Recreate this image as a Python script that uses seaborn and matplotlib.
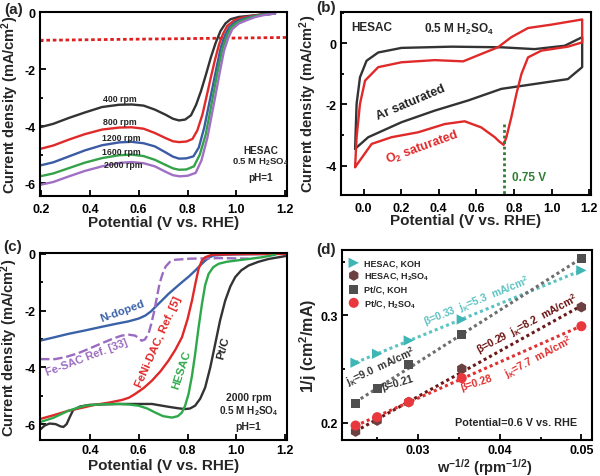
import numpy as np
import seaborn as sns
import matplotlib
matplotlib.use("Agg")
from matplotlib import pyplot as plt
from matplotlib.ticker import MultipleLocator, FormatStrFormatter

# ---------------- (a) LSV of HESAC at different rotation rates ----------------
v_400 = [0.196, 0.25, 0.315, 0.38, 0.45, 0.52, 0.571, 0.62, 0.666, 0.71, 0.74, 0.765, 0.79, 0.814,
         0.835, 0.855, 0.875, 0.895, 0.915, 0.935, 0.955, 0.976, 1.01, 1.057, 1.1, 1.158]
j_400 = [-4.04, -3.92, -3.71, -3.52, -3.33, -3.25, -3.24, -3.28, -3.42, -3.6, -3.74, -3.80, -3.77, -3.62,
         -3.25, -2.77, -2.2, -1.60, -1.08, -0.66, -0.40, -0.25, -0.17, -0.13, -0.09, -0.05]
v_800 = [0.196, 0.25, 0.315, 0.38, 0.45, 0.52, 0.571, 0.62, 0.666, 0.71, 0.74, 0.765, 0.795, 0.82,
         0.84, 0.861, 0.878, 0.895, 0.912, 0.929, 0.946, 0.963, 0.99, 1.017, 1.06, 1.1, 1.158]
j_800 = [-4.80, -4.68, -4.47, -4.28, -4.12, -4.05, -4.04, -4.09, -4.24, -4.42, -4.53, -4.56, -4.54, -4.45,
         -4.15, -3.59, -2.95, -2.30, -1.68, -1.13, -0.75, -0.48, -0.30, -0.21, -0.14, -0.09, -0.05]
v_1200 = [0.196, 0.25, 0.315, 0.38, 0.45, 0.52, 0.571, 0.62, 0.666, 0.71, 0.74, 0.765, 0.795, 0.824,
          0.846, 0.868, 0.885, 0.902, 0.919, 0.936, 0.953, 0.97, 0.995, 1.024, 1.06, 1.1, 1.158]
j_1200 = [-5.38, -5.27, -5.06, -4.85, -4.67, -4.57, -4.55, -4.60, -4.71, -4.92, -5.07, -5.14, -5.13, -5.06,
          -4.75, -4.06, -3.35, -2.65, -1.93, -1.24, -0.82, -0.54, -0.35, -0.25, -0.16, -0.10, -0.05]
v_1600 = [0.196, 0.25, 0.315, 0.38, 0.45, 0.52, 0.571, 0.62, 0.666, 0.71, 0.74, 0.765, 0.795, 0.826,
          0.85, 0.874, 0.891, 0.908, 0.925, 0.942, 0.959, 0.976, 1.0, 1.03, 1.065, 1.1, 1.158]
j_1600 = [-5.76, -5.66, -5.47, -5.28, -5.12, -5.02, -5.00, -5.05, -5.18, -5.36, -5.48, -5.53, -5.52, -5.41,
          -5.0, -4.30, -3.55, -2.77, -2.0, -1.30, -0.88, -0.56, -0.38, -0.27, -0.17, -0.10, -0.05]
v_2000 = [0.196, 0.25, 0.315, 0.38, 0.45, 0.52, 0.571, 0.62, 0.666, 0.71, 0.74, 0.767, 0.80, 0.833,
          0.857, 0.881, 0.898, 0.915, 0.932, 0.949, 0.966, 0.983, 1.01, 1.044, 1.075, 1.11, 1.158]
j_2000 = [-6.06, -5.96, -5.76, -5.57, -5.41, -5.29, -5.26, -5.30, -5.41, -5.60, -5.72, -5.76, -5.74, -5.64,
          -5.2, -4.41, -3.65, -2.89, -2.1, -1.36, -0.92, -0.60, -0.40, -0.28, -0.18, -0.11, -0.05]
rpm_labels = ["400 rpm", "800 rpm", "1200 rpm", "1600 rpm", "2000 rpm"]
rpm_colors = ["#333333", "#e02a2a", "#3b5ba5", "#35a24a", "#a070c4"]
ref_v = [0.196, 1.207]
ref_j = [-0.99, -0.89]

# ---------------- (b) CV in Ar / O2 saturated 0.5 M H2SO4 ----------------
ar_v = [-0.045, -0.037, -0.019, 0.016, 0.078, 0.202, 0.468, 0.733, 0.91, 1.07, 1.163,
        1.163, 1.087, 0.91, 0.733, 0.556, 0.379, 0.202, 0.025, -0.045]
ar_j = [-3.45, -1.98, -1.11, -0.57, -0.30, -0.15, -0.11, -0.13, -0.19, -0.08, 0.2,
        -0.78, -1.17, -1.33, -1.49, -1.87, -2.2, -2.58, -3.07, -3.45]
o2_v = [-0.045, -0.037, -0.019, 0.008, 0.078, 0.202, 0.379, 0.53, 0.626, 0.715, 0.786, 0.875, 0.999, 1.163,
        1.163, 1.087, 0.946, 0.875, 0.84, 0.813, 0.786, 0.76, 0.745, 0.72, 0.698, 0.626, 0.538, 0.432,
        0.29, 0.149, 0.043, -0.045]
o2_j = [-4.05, -3.07, -1.98, -1.22, -0.78, -0.62, -0.55, -0.59, -0.35, -0.13, 0.2, 0.5, 0.61, 0.78,
        0.03, -0.11, -0.24, -0.46, -1.0, -1.66, -2.42, -3.07, -3.32, -3.2, -3.07, -2.75, -2.55, -2.64,
        -2.91, -3.07, -3.29, -4.05]
peak_v = 0.745
peak_top = -2.65

# ---------------- (c) comparison at 2000 rpm ----------------
nd_v = [0.196, 0.25, 0.312, 0.38, 0.449, 0.51, 0.558, 0.6, 0.626, 0.65, 0.674, 0.7, 0.722, 0.75, 0.777,
        0.805, 0.831, 0.855, 0.872, 0.89, 0.906, 0.95, 1.0, 1.1, 1.2]
nd_j = [-3.06, -2.95, -2.82, -2.70, -2.57, -2.46, -2.38, -2.28, -2.18, -2.03, -1.82, -1.6, -1.41, -1.2, -1.0,
        -0.8, -0.59, -0.38, -0.24, -0.12, -0.06, -0.03, -0.02, -0.01, 0.0]
fe_v = [0.196, 0.257, 0.3, 0.353, 0.4, 0.449, 0.5, 0.531, 0.56, 0.585, 0.6, 0.612, 0.625, 0.64, 0.652,
        0.664, 0.674, 0.685, 0.697, 0.71, 0.728, 0.748, 0.81, 0.94, 1.05]
fe_j = [-3.71, -3.71, -3.64, -3.50, -3.33, -3.15, -2.97, -2.88, -2.85, -2.88, -2.97, -3.06, -3.02, -2.82, -2.45,
        -2.0, -1.55, -1.06, -0.72, -0.45, -0.28, -0.21, -0.17, -0.15, -0.17]
fn_v = [0.196, 0.25, 0.312, 0.37, 0.421, 0.48, 0.531, 0.56, 0.585, 0.62, 0.654, 0.69, 0.722, 0.75, 0.777,
        0.8, 0.818, 0.832, 0.845, 0.858, 0.872, 0.9, 1.0, 1.2]
fn_j = [-5.82, -5.69, -5.53, -5.42, -5.32, -5.24, -5.15, -5.07, -4.94, -4.73, -4.47, -4.13, -3.76, -3.38, -2.94,
        -2.3, -1.65, -1.05, -0.53, -0.25, -0.12, -0.03, -0.01, 0.0]
hs_v = [0.196, 0.25, 0.312, 0.38, 0.45, 0.517, 0.56, 0.599, 0.635, 0.667, 0.7, 0.736, 0.76, 0.777, 0.79,
        0.804, 0.818, 0.831, 0.845, 0.859, 0.872, 0.886, 0.905, 0.927, 0.96, 0.995, 1.05, 1.105, 1.159]
hs_j = [-5.93, -5.78, -5.53, -5.35, -5.30, -5.29, -5.31, -5.35, -5.45, -5.59, -5.72, -5.77, -5.72, -5.59, -5.35,
        -4.94, -4.3, -3.53, -2.6, -1.76, -1.1, -0.71, -0.47, -0.35, -0.28, -0.24, -0.18, -0.12, -0.03]
pt_v = [0.196, 0.215, 0.235, 0.26, 0.28, 0.292, 0.305, 0.318, 0.332, 0.36, 0.4, 0.517, 0.6, 0.654, 0.722,
        0.76, 0.79, 0.81, 0.831, 0.852, 0.872, 0.893, 0.913, 0.933, 0.954, 0.975, 0.995, 1.02, 1.05, 1.09,
        1.132, 1.2]
pt_j = [-6.2, -6.05, -5.98, -6.0, -6.08, -6.1, -6.0, -5.75, -5.5, -5.38, -5.32, -5.29, -5.29, -5.29, -5.39,
        -5.44, -5.47, -5.45, -5.35, -5.1, -4.71, -4.0, -3.18, -2.35, -1.65, -1.15, -0.82, -0.58, -0.41, -0.28,
        -0.18, -0.08]

# ---------------- (d) Koutecky-Levich plots ----------------
w_inv_sqrt = [0.02236, 0.025, 0.02887, 0.03536, 0.05]
kl_hesac_koh = [0.256, 0.2643, 0.2767, 0.2963, 0.342]
kl_hesac_h2so4 = [0.1919, 0.2021, 0.2193, 0.2503, 0.3078]
kl_ptc_koh = [0.2177, 0.2317, 0.254, 0.282, 0.3528]
kl_ptc_h2so4 = [0.1975, 0.2053, 0.2193, 0.2417, 0.290]

sns.set_style("ticks")
plt.rcParams["font.family"] = ["Liberation Sans", "DejaVu Sans"]
plt.rcParams["font.weight"] = "bold"
plt.rcParams["axes.labelweight"] = "bold"
plt.rcParams["mathtext.fontset"] = "custom"
plt.rcParams["mathtext.rm"] = "Liberation Sans:bold"
plt.rcParams["mathtext.bf"] = "Liberation Sans:bold"
plt.rcParams["mathtext.it"] = "Liberation Sans:bold:italic"
plt.rcParams["mathtext.default"] = "rm"
plt.rcParams["axes.unicode_minus"] = False

W, H = 600, 477
fig = plt.figure(figsize=(W / 100, H / 100), dpi=100)


def add_axes_px(left, top, right, bottom):
    return fig.add_axes([left / W, 1 - bottom / H, (right - left) / W, (bottom - top) / H])


def style_axes(ax, xpad=5):
    for s in ax.spines.values():
        s.set_visible(True)
        s.set_linewidth(1.5)
        s.set_color("black")
    ax.tick_params(which="both", direction="in", width=1.3, labelsize=9, colors="black")
    ax.tick_params(which="major", length=4)
    ax.tick_params(which="minor", length=2.5)
    ax.tick_params(axis="x", pad=xpad)
    ax.tick_params(axis="y", pad=3)


def line(ax, x, y, color, **kw):
    kw.setdefault("lw", 1.7)
    sns.lineplot(x=x, y=y, ax=ax, color=color, sort=False, estimator=None, **kw)


POT = "Potential (V vs. RHE)"
CUR = "Current density (mA/cm$^2$)"

# ---- (a)
ax = add_axes_px(40, 12.5, 287, 197)
line(ax, ref_v, ref_j, "#e02020", ls=(0, (1.3, 1.0)), lw=2.0)
for vv, jj, c in zip([v_400, v_800, v_1200, v_1600, v_2000],
                     [j_400, j_800, j_1200, j_1600, j_2000], rpm_colors):
    line(ax, vv, jj, c)
for lab, (x, y) in zip(rpm_labels, [(0.524, -3.03), (0.524, -3.83), (0.53, -4.41), (0.53, -4.88), (0.535, -5.33)]):
    ax.text(x, y, lab, fontsize=6.3, ha="center", va="center")
ax.text(1.1, -4.82, "HESAC", fontsize=7.2, ha="center", va="center")
ax.text(1.1, -5.22, "0.5 M H$_2$SO$_4$", fontsize=6.8, ha="center", va="center")
ax.text(1.1, -5.77, "pH=1", fontsize=7.2, ha="center", va="center")
ax.set_xlim(0.196, 1.207)
ax.set_ylim(-6.45, 0.02)
ax.set_xticks([0.2, 0.4, 0.6, 0.8, 1.0, 1.2])
ax.set_yticks([-6, -4, -2, 0])
ax.yaxis.set_minor_locator(MultipleLocator(1))
ax.xaxis.set_major_formatter(FormatStrFormatter("%.1f"))
style_axes(ax)
ax.set_xlabel(POT, fontsize=11)
ax.set_ylabel(CUR, fontsize=10.5)
ax.xaxis.set_label_coords(0.5, -0.103)
ax.yaxis.set_label_coords(-0.078, 0.5)

# ---- (b)
ax = add_axes_px(341, 12.5, 591, 196)
line(ax, ar_v, ar_j, "#333333")
line(ax, o2_v, o2_j, "#e02a2a")
line(ax, [peak_v, peak_v], [peak_top, -4.96], "#2e7d32", lw=2.0, ls=(0, (1.0, 1.0)))
ax.text(-0.063, 0.52, "HESAC", fontsize=8.5, ha="left", va="center")
ax.text(0.507, 0.47, "0.5 M H$_2$SO$_4$", fontsize=8.5, ha="center", va="center")
ax.text(0.25, -1.9, "Ar saturated", fontsize=9, ha="center", va="center", rotation=23,
        rotation_mode="anchor", color="#222222")
ax.text(0.309, -3.4, "O$_2$ saturated", fontsize=9, ha="center", va="center", rotation=20,
        rotation_mode="anchor", color="#e02a2a")
ax.text(0.79, -4.36, "0.75 V", fontsize=8.5, ha="left", va="center", color="#2e7d32")
ax.set_xlim(-0.12, 1.21)
ax.set_ylim(-4.96, 1.04)
ax.set_xticks([0.0, 0.2, 0.4, 0.6, 0.8, 1.0, 1.2])
ax.set_yticks([-4, -2, 0])
ax.yaxis.set_minor_locator(MultipleLocator(1))
ax.xaxis.set_major_formatter(FormatStrFormatter("%.1f"))
style_axes(ax)
ax.set_xlabel(POT, fontsize=11)
ax.set_ylabel(CUR, fontsize=10.5)
ax.xaxis.set_label_coords(0.5, -0.1)
ax.yaxis.set_label_coords(-0.088, 0.5)

# ---- (c)
ax = add_axes_px(40, 254, 287, 441)
line(ax, nd_v, nd_j, "#3a62a8")
line(ax, fe_v, fe_j, "#9b6bc0", ls=(0, (4, 1.6)))
line(ax, pt_v, pt_j, "#333333")
line(ax, fn_v, fn_j, "#e02828")
line(ax, hs_v, hs_j, "#2ea84a")
ax.text(0.534, -1.98, "N-doped", fontsize=8.2, ha="center", va="center", rotation=20,
        rotation_mode="anchor", color="#3a62a8")
ax.text(0.389, -3.62, "Fe-SAC Ref. [33]", fontsize=8, ha="center", va="center", rotation=21,
        rotation_mode="anchor", color="#9b6bc0")
ax.text(0.681, -3.06, "FeNi-DAC, Ref. [5]", fontsize=8.2, ha="center", va="center", rotation=66,
        rotation_mode="anchor", color="#e02828")
ax.text(0.777, -4.06, "HESAC", fontsize=8.2, ha="center", va="center", rotation=72,
        rotation_mode="anchor", color="#2ea84a")
ax.text(0.947, -3.29, "Pt/C", fontsize=8.2, ha="center", va="center", rotation=75,
        rotation_mode="anchor", color="#222222")
ax.text(1.05, -5.06, "2000 rpm", fontsize=7.5, ha="center", va="center")
ax.text(1.05, -5.5, "0.5 M H$_2$SO$_4$", fontsize=7.2, ha="center", va="center")
ax.text(1.05, -6.06, "pH=1", fontsize=7.5, ha="center", va="center")
ax.set_xlim(0.196, 1.207)
ax.set_ylim(-6.56, 0.03)
ax.set_xticks([0.4, 0.6, 0.8, 1.0, 1.2])
ax.set_yticks([-6, -4, -2, 0])
ax.yaxis.set_minor_locator(MultipleLocator(1))
ax.xaxis.set_major_formatter(FormatStrFormatter("%.1f"))
style_axes(ax, xpad=3)
ax.set_xlabel(POT, fontsize=11)
ax.set_ylabel(CUR, fontsize=10.5)
ax.xaxis.set_label_coords(0.5, -0.095)
ax.yaxis.set_label_coords(-0.08, 0.5)

# ---- (d)
ax = add_axes_px(342, 251, 592, 441)
kl_series = [
    (kl_hesac_koh, "HESAC, KOH", ">", "#3fb6b6", "#5cc2c2", 55),
    (kl_hesac_h2so4, "HESAC, H$_2$SO$_4$", "h", "#6b4040", "#6a1818", 60),
    (kl_ptc_koh, "Pt/C, KOH", "s", "#4f4f4f", "#6e6e6e", 42),
    (kl_ptc_h2so4, "Pt/C, H$_2$SO$_4$", "o", "#e8383d", "#e03030", 52),
]
for vals, lab, mk, mc, lc, sz in kl_series:
    sns.regplot(x=np.array(w_inv_sqrt), y=np.array(vals), ax=ax, scatter=False, ci=None, truncate=True,
                color=lc, line_kws={"ls": (0, (1.0, 1.0)), "lw": 2.2})
for vals, lab, mk, mc, lc, sz in kl_series:
    sns.scatterplot(x=w_inv_sqrt, y=vals, ax=ax, marker=mk, s=sz, color=mc, edgecolor="none",
                    label=lab, zorder=3)
ax.legend(loc="upper left", bbox_to_anchor=(0.0, 0.99), frameon=False, fontsize=6.5,
          handletextpad=0.5, handlelength=1.2, labelspacing=0.35, borderaxespad=0.3)
ax.text(0.03715, 0.314, "β=0.33  j$_K$=5.3  mA/cm$^2$", fontsize=7.5, ha="center", va="center",
        rotation=22, rotation_mode="anchor", color="#5cc2c2")
ax.text(0.02541, 0.2527, "j$_K$=9.0  mA/cm$^2$", fontsize=7.5, ha="center", va="center",
        rotation=25, rotation_mode="anchor", color="#333333")
ax.text(0.02745, 0.2372, "β=0.21", fontsize=7.5, ha="center", va="center",
        rotation=17, rotation_mode="anchor", color="#333333")
ax.text(0.04337, 0.293, "β=0.29  j$_K$=8.2  mA/cm$^2$", fontsize=7.5, ha="center", va="center",
        rotation=28, rotation_mode="anchor", color="#6a1010")
ax.text(0.0448, 0.262, "j$_K$=7.7  mA/cm$^2$", fontsize=7.5, ha="center", va="center",
        rotation=28, rotation_mode="anchor", color="#e03030")
ax.text(0.03715, 0.2379, "β=0.28", fontsize=7.5, ha="center", va="center",
        rotation=18, rotation_mode="anchor", color="#e03030")
ax.text(0.04196, 0.2009, "Potential=0.6 V vs. RHE", fontsize=7.8, ha="center", va="center")
ax.set_xlim(0.0207, 0.0513)
ax.set_ylim(0.184, 0.361)
ax.set_xticks([0.03, 0.04, 0.05])
ax.set_yticks([0.2, 0.3])
ax.xaxis.set_minor_locator(MultipleLocator(0.005))
ax.yaxis.set_minor_locator(MultipleLocator(0.05))
ax.xaxis.set_major_formatter(FormatStrFormatter("%.2f"))
ax.yaxis.set_major_formatter(FormatStrFormatter("%.1f"))
style_axes(ax, xpad=3)
ax.set_xlabel("w$^{-1/2}$ (rpm$^{-1/2}$)", fontsize=10.5)
ax.set_ylabel("1/j (cm$^2$/mA)", fontsize=11.5)
ax.xaxis.set_label_coords(0.57, -0.087)
ax.yaxis.set_label_coords(-0.092, 0.5)

# panel letters
for lab, x, y in [("(a)", 4, 10), ("(b)", 316, 8), ("(c)", 3, 247), ("(d)", 316, 250)]:
    fig.text(x / W, 1 - y / H, lab, fontsize=11, ha="left", va="center")

fig.savefig("out.png", dpi=100, facecolor="white")
